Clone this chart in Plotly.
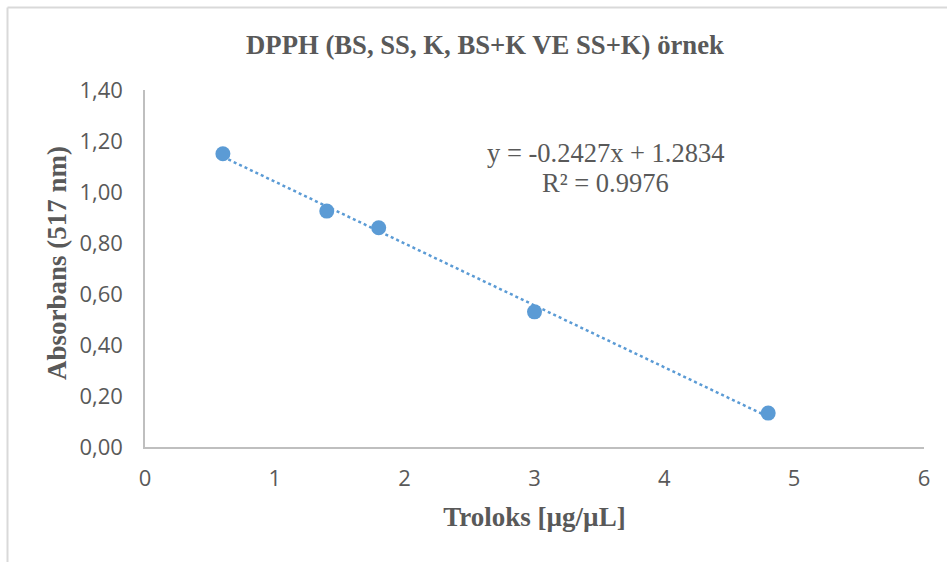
import plotly.graph_objects as go

x_vals = [0.6, 1.4, 1.8, 3.0, 4.8]
y_vals = [1.15, 0.925, 0.86, 0.53, 0.133]
slope = -0.2427
intercept = 1.2834
r2 = 0.9976
x_ticks = [0, 1, 2, 3, 4, 5, 6]
y_ticks = [0.0, 0.2, 0.4, 0.6, 0.8, 1.0, 1.2, 1.4]

W, H = 947, 562
ML, MR, MT, MB = 145, 23, 90, 115
pw, ph = W - ML - MR, H - MT - MB

def px(xp):
    return (xp - ML) / pw

def py(yp):
    return (H - MB - yp) / ph

gray = "#595959"
blue = "#5b9bd5"

trend_x = [min(x_vals), max(x_vals)]
trend_y = [slope * v + intercept for v in trend_x]

fig = go.Figure()
fig.add_trace(go.Scatter(x=trend_x, y=trend_y, mode="lines",
                         line=dict(color=blue, width=2.5, dash="dot"),
                         showlegend=False, hoverinfo="skip"))
fig.add_trace(go.Scatter(x=x_vals, y=y_vals, mode="markers",
                         marker=dict(color=blue, size=15),
                         showlegend=False))

eq_font = dict(family="Liberation Serif", size=26.5, color=gray)
ttl_font = dict(family="Liberation Serif", size=27, color=gray)

fig.update_layout(
    width=W, height=H,
    margin=dict(l=ML, r=MR, t=MT, b=MB),
    paper_bgcolor="white", plot_bgcolor="white",
    separators=",.",
    title=dict(text="<b>DPPH (BS, SS, K, BS+K VE SS+K) örnek</b>",
               x=485 / W, xanchor="center", xref="container",
               y=1 - 45 / H, yanchor="middle", yref="container",
               font=dict(family="Liberation Serif", size=26.7, color=gray)),
    xaxis=dict(range=[0, 6], tickvals=x_ticks, showgrid=False, zeroline=False,
               showline=True, linecolor="#bfbfbf", linewidth=1.5,
               ticks="outside", ticklen=0, ticklabelstandoff=11,
               tickfont=dict(family="Open Sans", size=22, color=gray),
               title=dict(text="<b>Troloks [µg/µL]</b>", standoff=16, font=ttl_font)),
    yaxis=dict(range=[0, 1.4], tickvals=y_ticks, tickformat=".2f", showgrid=False,
               zeroline=False, showline=True, linecolor="#bfbfbf", linewidth=1.5,
               ticks="outside", ticklen=0, ticklabelstandoff=16,
               tickfont=dict(family="Open Sans", size=22, color=gray)),
    annotations=[
        dict(text="<b>Absorbans (517 nm)</b>", textangle=-90,
             xref="paper", yref="paper", x=px(57), y=py(263),
             xanchor="center", yanchor="middle", showarrow=False, font=ttl_font),
        dict(text=f"y = {slope}x + {intercept}",
             xref="paper", yref="paper", x=px(605), y=py(153),
             xanchor="center", yanchor="middle", showarrow=False, font=eq_font),
        dict(text=f"R² = {r2}",
             xref="paper", yref="paper", x=px(605), y=py(183),
             xanchor="center", yanchor="middle", showarrow=False, font=eq_font),
    ],
    shapes=[
        dict(type="line", xref="paper", yref="paper", x0=px(7.5), x1=px(W + 5),
             y0=py(7.5), y1=py(7.5), line=dict(color="#d9d9d9", width=2)),
        dict(type="line", xref="paper", yref="paper", x0=px(7.5), x1=px(7.5),
             y0=py(7.5), y1=py(H + 5), line=dict(color="#d9d9d9", width=2)),
    ],
)

fig.write_html("out.html")
